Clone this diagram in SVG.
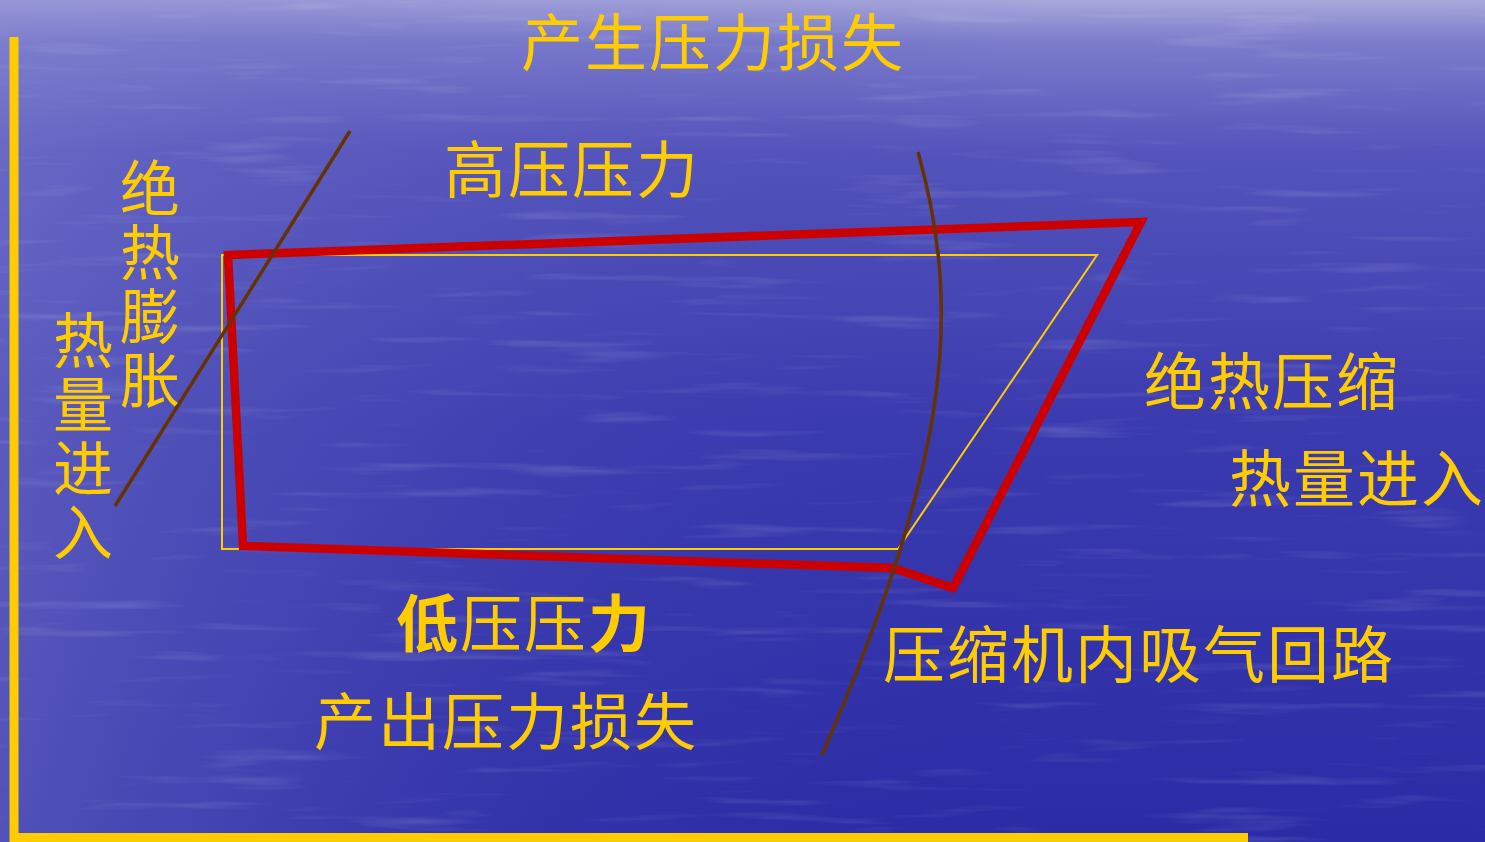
<svg xmlns="http://www.w3.org/2000/svg" width="1485" height="842" viewBox="0 0 1485 842">
<defs>
<linearGradient id="bgv" x1="0" y1="0" x2="0" y2="1">
<stop offset="0" stop-color="#a8a8dc"/>
<stop offset="0.05" stop-color="#7c7ccc"/>
<stop offset="0.18" stop-color="#5454bc"/>
<stop offset="0.5" stop-color="#3b3bb0"/>
<stop offset="1" stop-color="#2b2ba6"/>
</linearGradient>
<linearGradient id="bgh" x1="0" y1="0" x2="1" y2="0">
<stop offset="0" stop-color="#8080d0" stop-opacity="0.45"/>
<stop offset="0.35" stop-color="#6060c0" stop-opacity="0.15"/>
<stop offset="0.7" stop-color="#2828a0" stop-opacity="0"/>
</linearGradient>
<filter id="ripple" x="0" y="0" width="1" height="1">
<feTurbulence type="fractalNoise" baseFrequency="0.006 0.08" numOctaves="3" seed="4" result="n"/>
<feColorMatrix in="n" type="matrix" values="0 0 0 0 1  0 0 0 0 1  0 0 0 0 1  0 0 0 1.6 -0.95"/>
</filter>
<style>
.t{fill:#ffcc00;font-family:"Noto Sans CJK SC","Noto Sans CJK TC",sans-serif;font-size:62px;letter-spacing:2px;}
.vt{writing-mode:vertical-rl;letter-spacing:4px;font-size:60px;}
.b{font-weight:bold;}
.axis{stroke:#ffcc00;stroke-width:9;fill:none;}
.red{stroke:#cc0000;stroke-width:8.5;fill:none;stroke-linejoin:miter;}
.yel{stroke:#ffcc00;stroke-width:2;fill:none;}
.brown{stroke:#663300;stroke-width:3.5;fill:none;}
</style>
</defs>
<rect x="0" y="0" width="1485" height="842" fill="url(#bgv)"/>
<rect x="0" y="0" width="1485" height="842" fill="url(#bgh)"/>
<rect x="0" y="0" width="1485" height="842" filter="url(#ripple)" opacity="0.25"/>

<g id="axes">
<line class="axis" x1="14" y1="37" x2="14" y2="842"/>
<line class="axis" x1="10" y1="837.5" x2="1248" y2="837.5"/>
</g>

<g id="connectors">
<polygon id="ideal-cycle" class="yel" points="222,255 1097,255 898,549 222,549"/>
<polygon id="real-cycle" class="red" points="228,255 1141,222 953,588 893,568 243,546"/>
<line id="expansion-line" class="brown" x1="350" y1="131" x2="115" y2="506"/>
<path id="compression-curve" class="brown" d="M918,152 C965,320 945,470 822,755"/>
</g>

<g id="label-top"><text class="t" x="521" y="66" font-size="63">产生压力损失</text></g>
<g id="label-high"><text class="t" x="444" y="193">高压压力</text></g>
<g id="label-expansion"><text class="t vt" x="150" y="158">绝热膨胀</text></g>
<g id="label-heat-left"><text class="t vt" x="83" y="310">热量进入</text></g>
<g id="label-compression"><text class="t" x="1144" y="405" font-size="63">绝热压缩</text></g>
<g id="label-heat-right"><text class="t" x="1229" y="502">热量进入</text></g>
<g id="label-low"><text class="t" x="396" y="647"><tspan class="b">低</tspan>压压<tspan class="b">力</tspan></text></g>
<g id="label-out"><text class="t" x="314" y="745" font-size="63">产出压力损失</text></g>
<g id="label-suction"><text class="t" x="883" y="678" font-size="64">压缩机内吸气回路</text></g>
</svg>
